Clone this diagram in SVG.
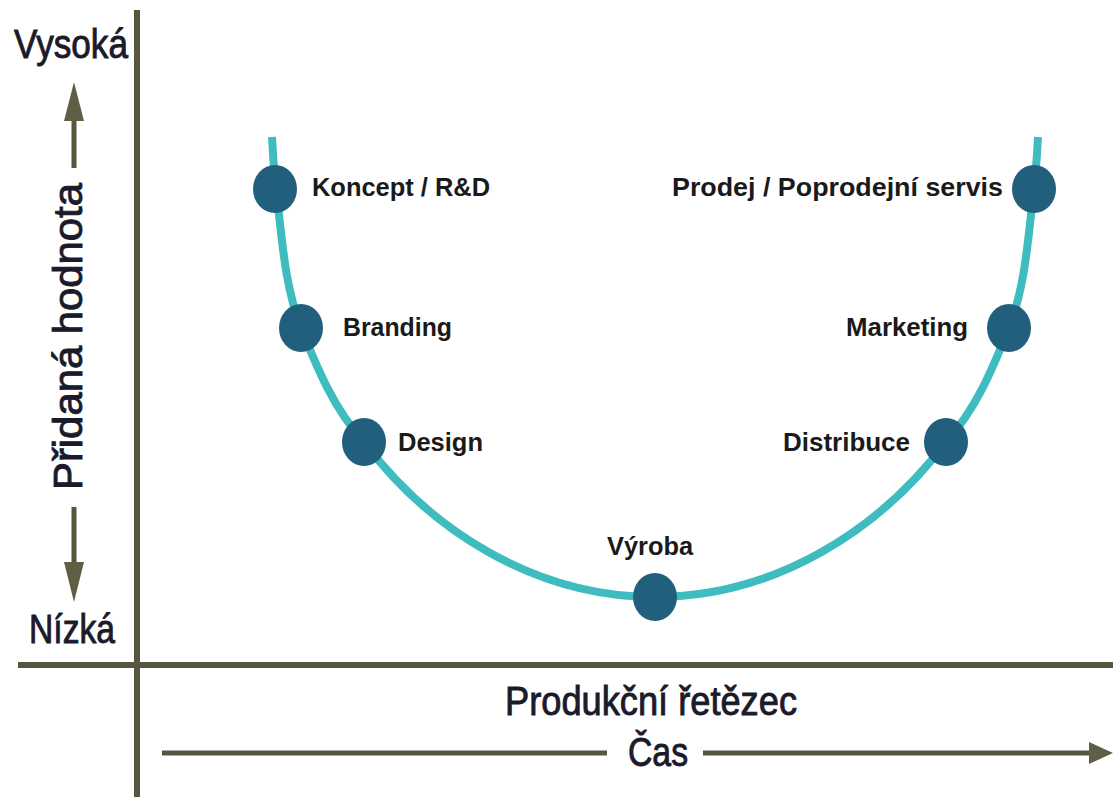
<svg xmlns="http://www.w3.org/2000/svg" width="1113" height="797" viewBox="0 0 1113 797">
<style>
.axis{stroke:#57573f;stroke-width:6;fill:none}
.arr{stroke:#57573f;stroke-width:5;fill:none}
.head{fill:#5f5f45}
.curve{stroke:#3fbcc0;stroke-width:8;fill:none;stroke-linecap:butt}
.node{fill:#215f7d}
.lbl{font-family:"Liberation Sans",Arial,sans-serif;font-weight:bold;font-size:25px;fill:#1a1a1a}
.ax{font-family:"Liberation Sans",Arial,sans-serif;font-size:40px;fill:#1a1a2a;stroke:#1a1a2a;stroke-width:0.9}
</style>
<rect width="1113" height="797" fill="#ffffff"/>
<g id="axes">
<line class="axis" x1="137" y1="10" x2="137" y2="797"/>
<line class="axis" x1="18" y1="665" x2="1113" y2="665"/>
</g>
<g id="connectors">
<path class="curve" d="M272,137 C273,154 274,172 276,189 C282,236 284,284 301,328 C318,370 334,409 364,442 C430,530 535,597 655,597 C775,597 880,530 946,442 C976,409 992,370 1009,328 C1026,284 1028,236 1034,189 C1036,172 1037,154 1038,137"/>
</g>
<g id="y-axis-labels">
<text class="ax" x="14" y="58" textLength="114" lengthAdjust="spacingAndGlyphs">Vysoká</text>
<line class="arr" x1="74" y1="168" x2="74" y2="115"/>
<polygon class="head" points="74,82 84,121 64,121"/>
<text class="ax" transform="translate(82,490) rotate(-90)" x="0" y="0" textLength="307" lengthAdjust="spacingAndGlyphs">Přidaná hodnota</text>
<line class="arr" x1="74" y1="507" x2="74" y2="568"/>
<polygon class="head" points="74,602 84,562 64,562"/>
<text class="ax" x="29" y="643" textLength="86" lengthAdjust="spacingAndGlyphs">Nízká</text>
</g>
<g id="x-axis-labels">
<text class="ax" x="505" y="715" textLength="292" lengthAdjust="spacingAndGlyphs">Produkční řetězec</text>
<line class="arr" x1="162" y1="753" x2="607" y2="753"/>
<text class="ax" x="628" y="766" textLength="60" lengthAdjust="spacingAndGlyphs">Čas</text>
<line class="arr" x1="703" y1="753" x2="1092" y2="753"/>
<polygon class="head" points="1113,753 1089,742 1089,764"/>
</g>
<g id="node-koncept"><ellipse class="node" cx="275" cy="189" rx="22" ry="24"/><text class="lbl" x="312" y="196" textLength="178" lengthAdjust="spacingAndGlyphs">Koncept / R&amp;D</text></g>
<g id="node-branding"><ellipse class="node" cx="301" cy="328" rx="22" ry="24"/><text class="lbl" x="343" y="336" textLength="109" lengthAdjust="spacingAndGlyphs">Branding</text></g>
<g id="node-design"><ellipse class="node" cx="364" cy="442" rx="22" ry="24"/><text class="lbl" x="398" y="451" textLength="85" lengthAdjust="spacingAndGlyphs">Design</text></g>
<g id="node-vyroba"><ellipse class="node" cx="655" cy="597" rx="22" ry="24"/><text class="lbl" x="607" y="555" textLength="86" lengthAdjust="spacingAndGlyphs">Výroba</text></g>
<g id="node-distribuce"><ellipse class="node" cx="946" cy="442" rx="22" ry="24"/><text class="lbl" x="783" y="451" textLength="127" lengthAdjust="spacingAndGlyphs">Distribuce</text></g>
<g id="node-marketing"><ellipse class="node" cx="1009" cy="328" rx="22" ry="24"/><text class="lbl" x="846" y="336" textLength="122" lengthAdjust="spacingAndGlyphs">Marketing</text></g>
<g id="node-prodej"><ellipse class="node" cx="1034" cy="189" rx="22" ry="24"/><text class="lbl" x="672" y="196" textLength="331" lengthAdjust="spacingAndGlyphs">Prodej / Poprodejní servis</text></g>
</svg>
